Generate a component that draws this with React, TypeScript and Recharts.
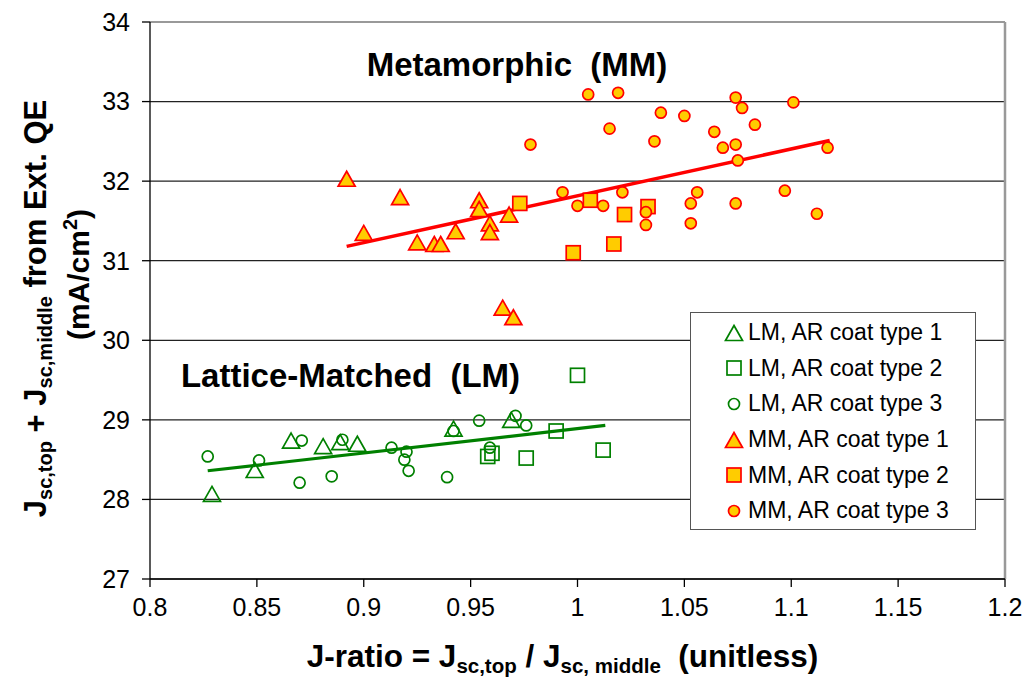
import { ScatterChart, Scatter, XAxis, YAxis, CartesianGrid, ReferenceLine, ReferenceDot, Legend, Label } from 'recharts';

const FONT = '"Liberation Sans", Arial, Helvetica, sans-serif';
const GREEN = '#008000';
const RED = '#ff0000';
const GOLD = '#ffcc00';

// axis ticks
const xTicks = [0.8, 0.85, 0.9, 0.95, 1, 1.05, 1.1, 1.15, 1.2];
const yTicks = [27, 28, 29, 30, 31, 32, 33, 34];

// [J-ratio, Jsc sum]
const lmType1 = [
  [0.829, 28.07], [0.849, 28.37], [0.866, 28.74], [0.881, 28.67],
  [0.889, 28.72], [0.897, 28.7], [0.942, 28.89], [0.969, 29.0],
];
const lmType2 = [
  [0.958, 28.54], [0.96, 28.58], [0.976, 28.52], [0.99, 28.86],
  [1.0, 29.56], [1.012, 28.62],
];
const lmType3 = [
  [0.827, 28.54], [0.851, 28.49], [0.871, 28.74], [0.87, 28.21],
  [0.885, 28.29], [0.89, 28.75], [0.913, 28.65], [0.92, 28.6],
  [0.919, 28.5], [0.921, 28.36], [0.939, 28.28], [0.942, 28.86],
  [0.954, 28.99], [0.959, 28.65], [0.971, 29.05], [0.976, 28.93],
];
const mmType1 = [
  [0.892, 32.03], [0.9, 31.35], [0.917, 31.8], [0.925, 31.23],
  [0.933, 31.21], [0.936, 31.21], [0.943, 31.37], [0.954, 31.76],
  [0.954, 31.65], [0.959, 31.47], [0.959, 31.36], [0.968, 31.58],
  [0.965, 30.41], [0.97, 30.29],
];
const mmType2 = [
  [0.973, 31.72], [0.998, 31.1], [1.006, 31.76], [1.017, 31.21],
  [1.022, 31.58], [1.033, 31.68],
];
const mmType3 = [
  [0.978, 32.46], [0.993, 31.86], [1.0, 31.69], [1.005, 33.09],
  [1.012, 31.69], [1.015, 32.66], [1.019, 33.11], [1.021, 31.86],
  [1.032, 31.61], [1.032, 31.45], [1.036, 32.5], [1.039, 32.86],
  [1.05, 32.82], [1.053, 31.72], [1.053, 31.47], [1.056, 31.86],
  [1.064, 32.62], [1.068, 32.42], [1.074, 32.46], [1.074, 33.05],
  [1.075, 32.26], [1.074, 31.72], [1.077, 32.92], [1.083, 32.71],
  [1.097, 31.88], [1.101, 32.99], [1.112, 31.59], [1.117, 32.42],
];

// linear fits (end points)
const lmFit = [[0.827, 28.36], [1.013, 28.93]];
const mmFit = [[0.892, 31.18], [1.118, 32.51]];

const toPts = (arr: number[][]) => arr.map(([x, y]) => ({ x, y }));

type Kind = 'tri' | 'sq' | 'circ';

const Marker = ({ cx, cy, kind, mm }: { cx: number; cy: number; kind: Kind; mm: boolean }) => {
  const stroke = mm ? RED : GREEN;
  const fill = mm ? GOLD : 'none';
  const sw = 1.7;
  if (kind === 'tri') {
    const w = 17, h = 15;
    return (
      <polygon
        points={`${cx},${cy - h / 2} ${cx + w / 2},${cy + h / 2} ${cx - w / 2},${cy + h / 2}`}
        fill={fill} stroke={stroke} strokeWidth={sw} strokeLinejoin="miter"
      />
    );
  }
  if (kind === 'sq') {
    const s = 14;
    return <rect x={cx - s / 2} y={cy - s / 2} width={s} height={s} fill={fill} stroke={stroke} strokeWidth={sw} />;
  }
  return <circle cx={cx} cy={cy} r={5.5} fill={fill} stroke={stroke} strokeWidth={sw} />;
};

const series = [
  { name: 'LM, AR coat type 1', data: lmType1, kind: 'tri' as Kind, mm: false },
  { name: 'LM, AR coat type 2', data: lmType2, kind: 'sq' as Kind, mm: false },
  { name: 'LM, AR coat type 3', data: lmType3, kind: 'circ' as Kind, mm: false },
  { name: 'MM, AR coat type 1', data: mmType1, kind: 'tri' as Kind, mm: true },
  { name: 'MM, AR coat type 2', data: mmType2, kind: 'sq' as Kind, mm: true },
  { name: 'MM, AR coat type 3', data: mmType3, kind: 'circ' as Kind, mm: true },
];

const LegendBox = () => (
  <div
    style={{
      width: 286, height: 218, boxSizing: 'border-box', border: '1.5px solid #555',
      background: '#fff', paddingTop: 2, fontFamily: FONT, fontSize: 23, color: '#000',
    }}
  >
    {series.map((s) => (
      <div key={s.name} style={{ display: 'flex', alignItems: 'center', height: 35.6 }}>
        <svg width={57} height={30} style={{ flex: 'none' }}>
          <Marker cx={43} cy={15} kind={s.kind} mm={s.mm} />
        </svg>
        <span style={{ whiteSpace: 'nowrap' }}>{s.name}</span>
      </div>
    ))}
  </div>
);

const YTitle = (props: any) => {
  const vb = props.viewBox || { x: 0, y: 22, width: 150, height: 557 };
  const mid = vb.y + vb.height / 2;
  return (
    <g fontFamily={FONT} fontWeight="bold" fill="#000">
      <text transform={`translate(${vb.x + 46},${mid + 8}) rotate(-90)`} textAnchor="middle" fontSize={31}>
        J<tspan fontSize={20} dy={6}>sc,top</tspan>
        <tspan dy={-6}>{' + J'}</tspan>
        <tspan fontSize={20} dy={6}>sc,middle</tspan>
        <tspan dy={-6}>{' from Ext. QE'}</tspan>
      </text>
      <text transform={`translate(${vb.x + 89},${mid - 26}) rotate(-90)`} textAnchor="middle" fontSize={30}>
        (mA/cm<tspan fontSize={20} dy={-12}>2</tspan>
        <tspan dy={12}>)</tspan>
      </text>
    </g>
  );
};

const XTitle = (props: any) => {
  const vb = props.viewBox || { x: 150, y: 579, width: 855, height: 99 };
  return (
    <text
      x={vb.x + vb.width / 2 - 15} y={vb.y + 88} textAnchor="middle"
      fontFamily={FONT} fontWeight="bold" fontSize={31.5} fill="#000"
    >
      J-ratio = J<tspan fontSize={20.5} dy={6}>sc,top</tspan>
      <tspan dy={-6}>{' / J'}</tspan>
      <tspan fontSize={20.5} dy={6}>sc, middle</tspan>
      <tspan dy={-6}>{'\u00a0\u00a0(unitless)'}</tspan>
    </text>
  );
};

const annotations = [
  { text: 'Metamorphic\u00a0\u00a0(MM)', x: 0.9717, y: 33.47 },
  { text: 'Lattice-Matched\u00a0\u00a0(LM)', x: 0.8938, y: 29.56 },
];

const AnnotationText = (text: string) => (props: any) => {
  const vb = props.viewBox || { x: 0, y: 0, width: 0, height: 0 };
  return (
    <text
      x={vb.x + vb.width / 2} y={vb.y + vb.height / 2} dy="0.36em" textAnchor="middle"
      fontFamily={FONT} fontWeight="bold" fontSize={33} fill="#000"
    >
      {text}
    </text>
  );
};

const tickStyle = { fontSize: 25, fill: '#000', fontFamily: FONT };

export default function App() {
  return (
    <div style={{ position: 'absolute', left: 0, top: 0, width: 1024, height: 678, background: '#fff' }}>
      <ScatterChart width={1024} height={678} margin={{ top: 22, right: 19, bottom: 0, left: 0 }}>
        <CartesianGrid horizontal vertical={false} stroke="#222" strokeWidth={1.2} />
        <XAxis
          type="number" dataKey="x" domain={[0.8, 1.2]} ticks={xTicks} interval={0}
          height={99} tickSize={8} tickMargin={11} tick={tickStyle}
          axisLine={{ stroke: '#000', strokeWidth: 1.3 }} tickLine={{ stroke: '#000', strokeWidth: 1.3 }}
        >
          <Label content={XTitle} />
        </XAxis>
        <YAxis
          type="number" dataKey="y" domain={[27, 34]} ticks={yTicks} interval={0}
          width={150} tickSize={8} tickMargin={12} tick={tickStyle}
          axisLine={{ stroke: '#000', strokeWidth: 1.3 }} tickLine={{ stroke: '#000', strokeWidth: 1.3 }}
        >
          <Label content={YTitle} />
        </YAxis>
        <ReferenceLine y={34} stroke="#999" strokeWidth={2} />
        <ReferenceLine x={1.2} stroke="#999" strokeWidth={2.5} />

        <Scatter
          data={toPts(lmFit)} line={{ stroke: GREEN, strokeWidth: 3.2 }} shape={() => <g />}
          isAnimationActive={false} legendType="none"
        />
        <Scatter
          data={toPts(mmFit)} line={{ stroke: RED, strokeWidth: 3.5 }} shape={() => <g />}
          isAnimationActive={false} legendType="none"
        />

        {series.map((s) => (
          <Scatter
            key={s.name}
            name={s.name}
            data={toPts(s.data)}
            isAnimationActive={false}
            shape={(p: any) => <Marker cx={p.cx} cy={p.cy} kind={s.kind} mm={s.mm} />}
          />
        ))}

        {annotations.map((a) => (
          <ReferenceDot
            key={a.text} x={a.x} y={a.y} r={0} fill="none" stroke="none"
            label={{ content: AnnotationText(a.text) }}
          />
        ))}

        <Legend
          layout="vertical" align="center" verticalAlign="middle"
          wrapperStyle={{ left: 690, top: 312, width: 286, height: 218 }}
          content={() => <LegendBox />}
        />
      </ScatterChart>
    </div>
  );
}
